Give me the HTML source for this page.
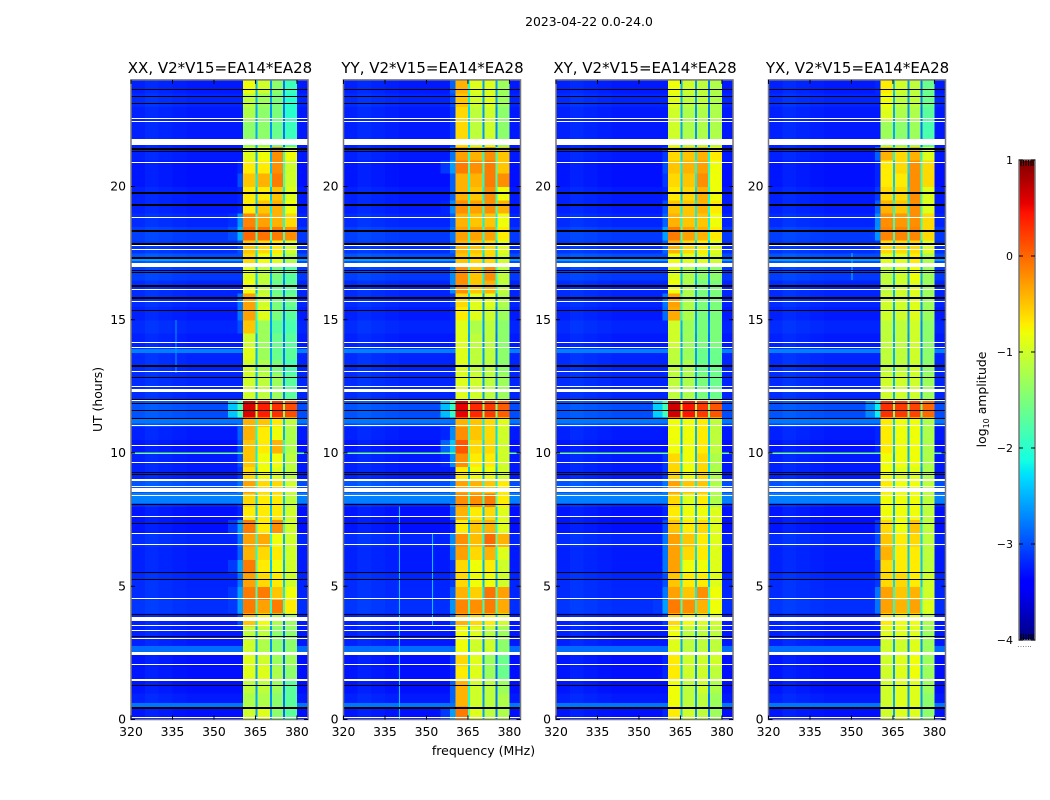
<!DOCTYPE html>
<html lang="en">
<head>
<meta charset="utf-8">
<title>2023-04-22 0.0-24.0</title>
<style>
html,body{margin:0;padding:0;background:#fff;}
svg{display:block;font-family:"DejaVu Sans","Liberation Sans",sans-serif;fill:#000;}
</style>
</head>
<body>
<svg id="figure" width="1050" height="800" viewBox="0 0 1050 800" xmlns="http://www.w3.org/2000/svg">
  <text x="589" y="26" font-size="12.4" text-anchor="middle">2023-04-22 0.0-24.0</text>
  <text x="483.500" y="755" font-size="12.5" text-anchor="middle">frequency (MHz)</text>
  <text transform="translate(102,399.500) rotate(-90)" font-size="12.4" text-anchor="middle">UT (hours)</text>
  <text transform="translate(986,399.500) rotate(-90)" font-size="12.4" text-anchor="middle">log<tspan font-size="8" dy="3">10</tspan><tspan dy="-3"> amplitude</tspan></text>
</svg>
<script>
// Time row edges in hours (a shorter row isolates the hot band near 11.5 h)
const rowEdges = [0,0.5,1,1.5,2,2.5,3,3.5,4,4.5,5,5.5,6,6.5,7,7.5,8,8.5,9,9.5,10,10.5,11,11.35,12,12.5,13,13.5,14,14.5,15,15.5,16,16.5,17,17.5,18,18.5,19,19.5,20,20.5,21,21.5,22,22.5,23,23.5,24];

// log10 amplitude per row: out-of-band background
const backgroundLevels = [-3.3,-3.25,-3.3,-3.3,-3.3,-3.25,-3.25,-3.25,-3.15,-3.2,-3.2,-3.25,-3.25,-3.2,-3.3,-3.3,-3.2,-3.0,-3.25,-3.25,-3.3,-3.25,-3.05,-3.0,-3.2,-3.2,-3.2,-3.2,-3.25,-3.2,-3.25,-3.2,-3.2,-3.1,-3.0,-3.15,-3.1,-3.2,-3.25,-3.25,-3.3,-3.3,-3.25,-3.25,-3.25,-3.25,-3.2,-3.25];

// Narrow bright broadband rows: start hour, end hour, level
const broadbandStartHours = [0.45,2.5,8.1,9.97,11.1,13.75,17.2];
const broadbandEndHours = [0.62,2.75,8.5,10.01,11.3,13.9,17.35];
const broadbandLevels = [-2.8,-2.85,-2.75,-1.6,-2.8,-2.75,-2.6];

// Faint vertical interference lines
const rfiPanels = [0,1,1,3];
const rfiFreqsMHz = [336,340,352,350];
const rfiStartHours = [13,0,3.5,16.5];
const rfiEndHours = [15,8,7,17.5];
const rfiLevels = [-2.6,-2.4,-2.4,-2.4];

// Background variation across frequency
const backgroundFreqEdges = [320,325,330,335,340,345,350,355];
const backgroundFreqOffsets = [0.03,0.08,0.05,0.02,0,0,0];

// Channel blocks in MHz: start, end; offsets of the gaps after each block
const blockStartsMHz = [360.5,365.7,370.9,375.7];
const blockEndsMHz = [365.1,370.2,375,380];
const gapOffsets = [0.7,0.6,0.45];

// XX band levels
const xxBlock1 = [-1.0,-1.2,-1.1,-0.9,-0.9,-1.0,-1.1,-0.5,-0.1,-0.1,-0.3,-0.1,-0.4,-0.3,-0.1,-0.7,-0.6,-0.3,-0.6,-0.5,-0.5,-0.4,-0.4,0.6,-1.0,-1.0,-1.0,-0.9,-1.0,-0.5,-0.3,-0.3,-0.8,-0.9,-0.6,-0.5,0,-0.15,-0.7,-0.7,-0.5,-0.7,-0.9,-1.4,-1.4,-1.2,-1.1,-0.8];
const xxBlock2 = [-0.9,-1.2,-1.1,-0.9,-1.0,-1.2,-1.1,-0.8,-0.3,-0.1,-0.6,-0.7,-0.6,-0.35,-0.7,-0.7,-0.7,-0.6,-0.8,-0.8,-0.7,-0.7,-0.5,0.4,-1.1,-1.1,-1.2,-1.3,-1.3,-1.3,-0.9,-1.0,-1.1,-1.1,-0.8,-0.6,-0.05,-0.3,-0.5,-0.7,-0.4,-0.7,-0.8,-1.4,-1.4,-1.4,-1.3,-1.0];
const xxBlock3 = [-1.4,-1.4,-1.3,-1.2,-1.3,-1.4,-1.4,-1.2,-0.1,-0.5,-0.7,-0.8,-0.7,-0.8,-0.2,-0.7,-0.7,-0.6,-0.9,-0.8,-0.4,-0.8,-0.7,0.3,-1.3,-1.3,-1.5,-1.6,-1.6,-1.7,-1.5,-1.5,-1.6,-1.5,-0.9,-0.7,-0.1,-0.4,-0.4,-0.5,-0.1,-0.2,-0.2,-1.6,-1.6,-1.5,-1.5,-1.4];
const xxBlock4 = [-1.7,-1.7,-1.7,-1.4,-1.3,-1.4,-1.4,-1.3,-0.7,-0.8,-1.0,-1.0,-1.0,-1.0,-1.0,-1.0,-1.1,-1.0,-1.1,-1.1,-1.2,-1.2,-1.1,0.15,-1.7,-1.7,-1.8,-1.7,-1.7,-1.8,-1.7,-1.6,-1.7,-1.7,-1.2,-1.0,-0.2,-0.6,-0.8,-0.9,-1.0,-1.0,-0.8,-1.9,-1.9,-2.0,-2.0,-1.9];

// YY band levels
const yyBlock1 = [-0.1,-0.4,-0.4,-0.7,-0.6,-0.8,-0.8,-0.4,-0.15,-0.4,-0.6,-0.6,-0.3,-0.2,-0.7,-0.4,-0.2,-0.3,-0.7,-0.2,0.1,-0.2,-0.4,0.55,-0.9,-0.9,-0.9,-0.9,-0.9,-0.9,-0.7,-0.6,-0.2,-0.2,-0.5,-0.4,-0.3,-0.4,-0.2,-0.4,-0.4,-0.1,-0.3,-0.6,-0.6,-0.6,-0.5,-0.4];
const yyBlock2 = [-0.9,-1.0,-1.0,-0.9,-0.9,-1.0,-0.9,-0.6,-0.2,-0.55,-0.8,-0.8,-0.6,-0.45,-0.5,-0.7,-0.2,-0.4,-0.8,-0.7,-0.6,-0.5,-0.5,0.35,-1.0,-1.0,-1.1,-1.1,-1.1,-1.2,-0.9,-0.9,-0.5,-0.5,-0.6,-0.5,-0.3,-0.5,-0.3,-0.5,-0.4,-0.2,-0.4,-1.1,-1.1,-1.1,-1.0,-0.9];
const yyBlock3 = [-1.1,-1.1,-1.1,-1.3,-1.3,-1.0,-1.1,-0.7,-0.1,-0.05,-0.8,-0.7,-0.4,0,-0.4,-0.6,-0.1,-0.5,-0.8,-0.7,-0.6,-0.6,-0.6,0.25,-1.1,-1.1,-1.1,-1.1,-1.1,-1.1,-1.0,-0.9,-0.4,-0.2,-0.6,-0.6,-0.3,-0.5,-0.2,-0.2,-0.1,-0.1,-0.2,-1.0,-1.0,-1.0,-0.9,-0.9];
const yyBlock4 = [-1.2,-1.2,-1.3,-1.6,-1.6,-1.4,-1.3,-1.0,-0.35,-0.3,-1.0,-1.0,-0.9,-0.4,-0.9,-0.9,-0.7,-0.7,-1.0,-1.0,-1.0,-1.0,-0.9,0.05,-1.3,-1.3,-1.4,-1.4,-1.4,-1.4,-1.3,-1.2,-1.1,-1.1,-1.0,-0.9,-0.7,-0.8,-0.4,-0.8,-0.2,-0.5,-0.5,-1.4,-1.4,-1.4,-1.3,-1.3];

// XY band levels
const xyBlock1 = [-0.7,-0.8,-0.8,-0.7,-0.7,-0.9,-0.8,-0.6,-0.1,-0.3,-0.5,-0.3,-0.3,-0.3,-0.5,-0.7,-0.6,-0.3,-0.6,-0.6,-0.8,-0.8,-0.8,0.65,-1.1,-1.1,-1.1,-1.1,-1.0,-1.0,-0.35,-0.3,-0.8,-0.9,-0.8,-0.4,-0.1,-0.4,-0.5,-0.7,-0.6,-0.5,-0.6,-1.0,-1.0,-1.0,-0.9,-0.8];
const xyBlock2 = [-1.0,-1.1,-1.1,-1.0,-1.0,-1.1,-1.1,-0.8,-0.2,-0.5,-0.7,-0.8,-0.6,-0.5,-0.7,-0.8,-0.9,-0.5,-0.8,-0.8,-0.8,-0.8,-0.8,0.45,-1.2,-1.2,-1.2,-1.3,-1.3,-1.3,-1.2,-1.2,-1.2,-1.2,-0.9,-0.6,-0.3,-0.5,-0.5,-0.6,-0.5,-0.4,-0.5,-1.2,-1.2,-1.2,-1.1,-1.0];
const xyBlock3 = [-1.1,-1.1,-1.0,-1.0,-1.0,-1.1,-1.1,-0.9,-0.4,-0.2,-0.7,-0.8,-0.7,-0.7,-0.6,-0.8,-0.7,-0.5,-0.6,-0.6,-0.7,-0.7,-0.7,0.25,-1.5,-1.5,-1.6,-1.6,-1.5,-1.5,-1.5,-1.5,-1.5,-1.4,-0.9,-0.7,-0.4,-0.5,-0.4,-0.4,-0.2,-0.3,-0.4,-1.2,-1.2,-1.2,-1.1,-1.1];
const xyBlock4 = [-1.3,-1.3,-1.2,-1.1,-1.0,-1.1,-1.1,-1.0,-0.8,-0.8,-0.9,-0.9,-0.9,-0.9,-0.9,-0.9,-1.2,-1.2,-1.2,-1.2,-1.1,-1.1,-1.1,0.1,-1.6,-1.6,-1.6,-1.6,-1.5,-1.5,-1.5,-1.5,-1.5,-1.4,-1.0,-0.9,-0.7,-0.8,-0.7,-0.8,-0.8,-0.8,-0.7,-1.2,-1.2,-1.2,-1.2,-1.2];

// YX band levels
const yxBlock1 = [-1.0,-1.0,-1.0,-1.0,-1.0,-1.0,-0.9,-0.7,-0.3,-0.3,-0.6,-0.6,-0.4,-0.5,-0.6,-0.8,-0.8,-0.7,-0.8,-0.8,-0.7,-0.7,-0.7,0.3,-1.0,-1.0,-1.1,-1.1,-1.1,-1.1,-1.0,-1.0,-1.1,-1.1,-0.9,-0.6,-0.15,-0.2,-0.4,-0.6,-0.7,-0.7,-0.4,-1.3,-1.3,-0.9,-0.8,-0.7];
const yxBlock2 = [-0.9,-0.9,-0.9,-0.9,-0.9,-1.0,-0.9,-0.8,-0.4,-0.5,-0.6,-0.7,-0.7,-0.7,-0.8,-0.8,-0.8,-0.8,-0.9,-0.8,-0.8,-0.8,-0.8,0.25,-1.0,-1.0,-1.1,-1.1,-1.1,-1.1,-1.0,-1.0,-1.0,-1.0,-0.9,-0.6,-0.15,-0.25,-0.5,-0.6,-0.7,-0.6,-0.6,-1.4,-1.4,-1.2,-1.1,-1.0];
const yxBlock3 = [-0.9,-0.9,-0.9,-0.8,-0.8,-0.9,-0.9,-0.8,-0.3,-0.4,-0.7,-0.7,-0.7,-0.6,-0.5,-0.8,-0.8,-0.8,-0.9,-0.8,-0.8,-0.8,-0.8,0.2,-1.0,-1.0,-1.0,-1.0,-1.0,-1.0,-0.9,-0.9,-0.9,-0.8,-0.7,-0.6,-0.15,-0.2,-0.2,-0.2,-0.2,-0.2,-0.4,-1.3,-1.3,-1.2,-1.1,-1.1];
const yxBlock4 = [-1.4,-1.4,-1.3,-1.3,-1.3,-1.3,-1.3,-1.2,-0.9,-1.0,-1.0,-1.1,-1.1,-1.1,-1.1,-1.1,-1.1,-1.1,-1.2,-1.2,-1.2,-1.2,-1.2,0,-1.3,-1.3,-1.4,-1.4,-1.4,-1.4,-1.3,-1.3,-1.3,-1.3,-1.2,-0.9,-0.6,-0.6,-0.9,-0.9,-0.6,-0.6,-0.9,-1.8,-1.8,-1.7,-1.6,-1.6];

// Flagged time ranges in hours: [start, end]
const whiteFlagHours = [[22.51,22.56],[22.42,22.47],[21.58,21.79],[20.88,20.93],[18.79,18.84],[17.77,17.82],[17.62,17.67],[16.97,17.12],[16.11,16.16],[15.67,15.72],[14.11,14.16],[13.91,13.96],[13.03,13.08],[12.46,12.51],[12.29,12.41],[11.93,11.98],[11.01,11.06],[10.24,10.29],[9.62,9.67],[8.96,9.03],[8.70,8.75],[8.53,8.67],[8.38,8.43],[7.58,7.63],[6.95,7.00],[6.54,6.59],[4.52,4.57],[3.71,3.86],[3.51,3.56],[3.30,3.35],[2.99,3.04],[2.42,2.52],[2.04,2.09],[1.45,1.51],[0.06,0.11]];
const blackFlagHours = [[23.61,23.66],[23.35,23.40],[23.09,23.14],[21.38,21.44],[21.31,21.35],[19.74,19.81],[19.28,19.34],[18.31,18.37],[17.81,17.87],[17.31,17.37],[17.26,17.31],[16.84,16.88],[16.74,16.78],[16.26,16.32],[15.80,15.86],[15.31,15.36],[13.25,13.31],[12.81,12.85],[12.00,12.04],[11.81,11.86],[11.59,11.63],[11.28,11.32],[9.25,9.29],[9.19,9.23],[8.05,8.09],[7.33,7.37],[5.49,5.53],[5.24,5.28],[3.90,3.94],[3.08,3.12],[1.25,1.29],[0.40,0.47]];

// Axis tick labels
const freqTicks = [320,335,350,365,380];
const hourTicks = [0,5,10,15,20];
const colorbarTicks = [1,0,-1,-2,-3,-4];

// Panels
const panelTitles = ["XX, V2*V15=EA14*EA28","YY, V2*V15=EA14*EA28","XY, V2*V15=EA14*EA28","YX, V2*V15=EA14*EA28"];
const panelBlocks = [[xxBlock1,xxBlock2,xxBlock3,xxBlock4],[yyBlock1,yyBlock2,yyBlock3,yyBlock4],[xyBlock1,xyBlock2,xyBlock3,xyBlock4],[yxBlock1,yxBlock2,yxBlock3,yxBlock4]];

const SVG_NS = "http://www.w3.org/2000/svg";
const figure = document.getElementById("figure");
const panelLefts = [131,343.5,556,768.5];
const panelWidth = 177;
const plotBottom = 719.5;
const pxPerHour = 26.65;
const pxPerMHz = panelWidth / 64;

function xScale(left, mhz){ return left + (mhz - 320) * pxPerMHz; }
function yScale(hour){ return plotBottom - hour * pxPerHour; }

function ramp(t, pts){
  for (let i = 1; i < pts.length; i++) {
    if (t <= pts[i][0]) {
      const a = pts[i-1], b = pts[i];
      return a[1] + (b[1] - a[1]) * (t - a[0]) / (b[0] - a[0]);
    }
  }
  return pts[pts.length-1][1];
}
function jet(level){
  const t = Math.max(0, Math.min(1, (level + 4) / 5));
  const r = ramp(t, [[0,0],[0.35,0],[0.66,1],[0.89,1],[1,0.5]]);
  const g = ramp(t, [[0,0],[0.125,0],[0.375,1],[0.64,1],[0.91,0],[1,0]]);
  const b = ramp(t, [[0,0.5],[0.11,1],[0.34,1],[0.65,0],[1,0]]);
  return "rgb(" + Math.round(r*255) + "," + Math.round(g*255) + "," + Math.round(b*255) + ")";
}
function make(tag, parent){
  const el = document.createElementNS(SVG_NS, tag);
  parent.appendChild(el);
  return el;
}
function place(el, x, y, w, h, fill){
  el.setAttribute("x", x);
  el.setAttribute("y", y);
  el.setAttribute("width", w);
  el.setAttribute("height", h);
  el.setAttribute("fill", fill);
}
function line(el, x1, y1, x2, y2){
  el.setAttribute("x1", x1);
  el.setAttribute("y1", y1);
  el.setAttribute("x2", x2);
  el.setAttribute("y2", y2);
  el.setAttribute("stroke", "#000");
  el.setAttribute("stroke-width", "1");
}

panelTitles.forEach(function(title, p){
  const left = panelLefts[p];
  const right = left + panelWidth;
  const group = make("g", figure);
  
  
  const cells = make("g", group);
  
  
  cells.setAttribute("shape-rendering", "crispEdges");

  for (let r = 0; r < rowEdges.length - 1; r++) {
    const yTop = yScale(rowEdges[r+1]);
    const h = yScale(rowEdges[r]) - yTop;
    const bg = backgroundLevels[r];
    const blocks = panelBlocks[p];

    backgroundFreqOffsets.forEach(function(off, i){
      const x0 = xScale(left, backgroundFreqEdges[i]);
      const x1 = xScale(left, backgroundFreqEdges[i+1]);
      const cell = make("rect", cells);
      
      
      place(cell, x0, yTop, x1 - x0 + 0.5, h + 0.5, jet(bg + off));
    });

    const edgeOuter = make("rect", cells);
    
    
    place(edgeOuter, xScale(left, 355), yTop, xScale(left, 358.5) - xScale(left, 355) + 0.5, h + 0.5, jet(Math.max(bg, blocks[0][r] - 3)));

    const edgeInner = make("rect", cells);
    
    
    place(edgeInner, xScale(left, 358.5), yTop, xScale(left, 360.5) - xScale(left, 358.5) + 0.5, h + 0.5, jet(Math.max(bg, blocks[0][r] - 2.5)));

    blocks.forEach(function(series, b){
      const x0 = xScale(left, blockStartsMHz[b]);
      const x1 = xScale(left, blockEndsMHz[b]);
      const cell = make("rect", cells);
      
      
      place(cell, x0, yTop, x1 - x0 + 0.5, h + 0.5, jet(series[r]));
      const gapEnd = b < 3 ? xScale(left, blockStartsMHz[b+1]) : right;
      const gap = make("rect", cells);
      
      
      place(gap, x1, yTop, gapEnd - x1 + 0.5, h + 0.5, jet(b < 3 ? Math.max(bg + gapOffsets[b], series[r] - 1.7) : bg));
    });
  }

  broadbandLevels.forEach(function(level, i){
    const top = yScale(broadbandEndHours[i]);
    const hgt = Math.max(1, yScale(broadbandStartHours[i]) - top);
    const band = make("rect", cells);
    
    
    place(band, left, top, xScale(left, 360.5) - left, hgt, jet(level));
    const bandRight = make("rect", cells);
    
    
    place(bandRight, xScale(left, 380), top, right - xScale(left, 380), hgt, jet(level));
  });

  rfiPanels.forEach(function(panel, i){
    if (panel !== p) return;
    const top = yScale(rfiEndHours[i]);
    const mark = make("rect", cells);
    
    
    place(mark, xScale(left, rfiFreqsMHz[i]), top, 1, yScale(rfiStartHours[i]) - top, jet(rfiLevels[i]));
  });

  [[whiteFlagHours,"#fff"],[blackFlagHours,"#000"]].forEach(function(spec){
    spec[0].forEach(function(range){
      const flag = make("rect", cells);
      
      
      const top = Math.round(yScale(range[1]));
      const hgt = Math.max(1, Math.round(yScale(range[0]) - yScale(range[1])));
      place(flag, left, top, panelWidth, hgt, spec[1]);
    });
  });

  const frame = make("rect", group);
  
  
  place(frame, left, yScale(24), panelWidth, plotBottom - yScale(24), "none");
  frame.setAttribute("stroke", "#777");
  frame.setAttribute("stroke-width", "1.5");

  freqTicks.forEach(function(f){
    const x = xScale(left, f);
    const bottomTick = make("line", group);
    
    
    line(bottomTick, x, plotBottom, x, plotBottom - 4);
    const topTick = make("line", group);
    
    
    line(topTick, x, yScale(24), x, yScale(24) + 4);
    const label = make("text", group);
    
    
    label.setAttribute("x", x);
    label.setAttribute("y", 736);
    label.setAttribute("font-size", "12.4");
    label.setAttribute("text-anchor", "middle");
    label.textContent = f;
  });

  hourTicks.forEach(function(h){
    const y = yScale(h);
    const leftTick = make("line", group);
    
    
    line(leftTick, left, y, left + 4, y);
    const rightTick = make("line", group);
    
    
    line(rightTick, right, y, right - 4, y);
    const label = make("text", group);
    
    
    label.setAttribute("x", left - 5);
    label.setAttribute("y", y + 4);
    label.setAttribute("font-size", "12.4");
    label.setAttribute("text-anchor", "end");
    label.textContent = h;
  });

  const heading = make("text", group);
  
  
  heading.setAttribute("x", left + panelWidth / 2 + 0.5);
  heading.setAttribute("y", 73);
  heading.setAttribute("font-size", "15");
  heading.setAttribute("text-anchor", "middle");
  heading.textContent = title;
});

// Colorbar
const cbLeft = 1019, cbRight = 1035, cbTop = 160, cbBottom = 640;
function cbY(level){ return cbBottom - (level + 4) / 5 * (cbBottom - cbTop); }
const colorbar = make("g", figure);


const ramps = make("g", colorbar);


ramps.setAttribute("shape-rendering", "crispEdges");
for (let i = 0; i < 240; i++) {
  const lv = -4 + 5 * (i + 0.5) / 240;
  const swatch = make("rect", ramps);
  
  
  place(swatch, cbLeft, cbY(lv) - 1, cbRight - cbLeft, 2.5, jet(lv));
}
const cbFrame = make("rect", colorbar);


place(cbFrame, cbLeft, cbTop, cbRight - cbLeft, cbBottom - cbTop, "none");
cbFrame.setAttribute("stroke", "#777");
cbFrame.setAttribute("stroke-width", "1.5");
colorbarTicks.forEach(function(v){
  const y = cbY(v);
  const a = make("line", colorbar);
  
  
  line(a, cbLeft, y, cbLeft + 4, y);
  const b = make("line", colorbar);
  
  
  line(b, cbRight, y, cbRight - 4, y);
  const label = make("text", colorbar);
  
  
  label.setAttribute("x", 1013);
  label.setAttribute("y", y + 4);
  label.setAttribute("font-size", "11");
  label.setAttribute("text-anchor", "end");
  label.textContent = String(v).replace("-", "\u2212");
});
[1021,1023.5,1026,1028.5,1031,1033].forEach(function(x){
  const t1 = make("line", colorbar);
  
  
  line(t1, x, cbTop, x, cbTop + 6);
  const t2 = make("line", colorbar);
  
  
  line(t2, x, cbBottom, x, cbBottom - 6);
  const dot = make("rect", colorbar);
  
  
  place(dot, x - 3, 646, 1, 1, "#888");
});
</script>
</body>
</html>
